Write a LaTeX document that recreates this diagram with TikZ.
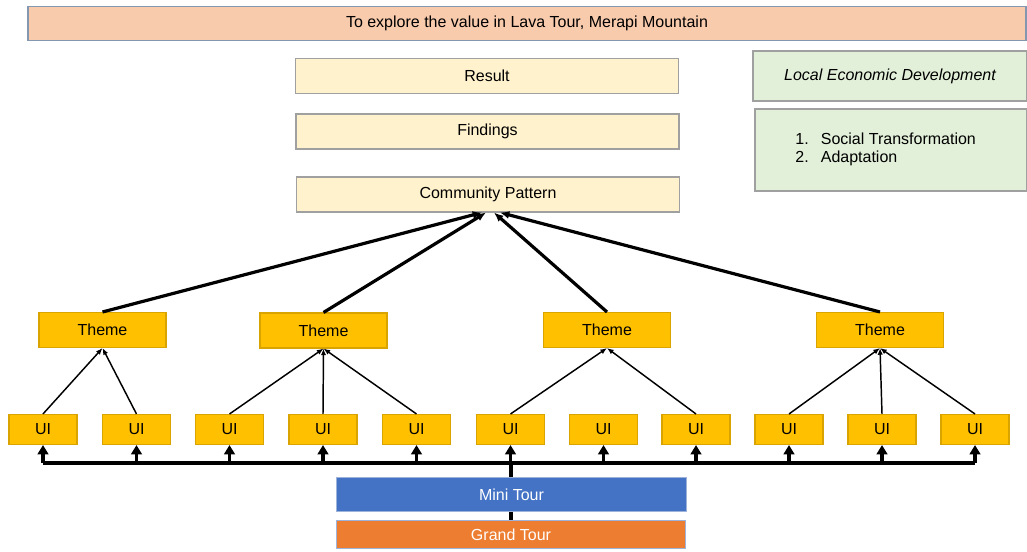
\documentclass[tikz,border=0pt]{standalone}
\usepackage{fontspec}
\setmainfont{Liberation Sans}
\usepackage{xcolor}
\usetikzlibrary{arrows.meta, positioning}

\definecolor{bannerfill}{HTML}{F8CBAD}
\definecolor{bannerline}{HTML}{8497B0}
\definecolor{stagefill}{HTML}{FFF2CC}
\definecolor{notefill}{HTML}{E2F0D9}
\definecolor{boxline}{HTML}{A0A0A0}
\definecolor{gold}{HTML}{FFC000}
\definecolor{goldline}{HTML}{D9A400}
\definecolor{mini}{HTML}{4472C4}
\definecolor{grand}{HTML}{ED7D31}
\definecolor{tourline}{HTML}{9DB3DA}

\tikzset{
  box/.style={draw=boxline, line width=0.8pt, inner sep=0pt, font=\fontsize{12}{14}\selectfont},
  goalbox/.style={box, draw=bannerline, fill=bannerfill, minimum width=748.5pt, minimum height=25.5pt},
  stagebox/.style={box, fill=stagefill, minimum width=287.25pt, minimum height=26.25pt},
  notebox/.style={box, fill=notefill},
  themebox/.style={box, draw=goldline, fill=gold, minimum width=95.25pt, minimum height=26.25pt},
  uibox/.style={box, draw=goldline, fill=gold, minimum width=51pt, minimum height=22.5pt},
  tourbox/.style={box, draw=tourline, text=white, minimum width=262pt},
  toarrow/.style={-{Latex[length=7pt,width=6pt]}, line width=2.4pt},
  uiarrow/.style={-{Latex[length=5pt,width=4pt]}, line width=1.1pt},
  busline/.style={line width=2.8pt},
  busarrow/.style={-{Triangle[length=7pt,width=8pt]}, line width=2.8pt}
}

\begin{document}
\begin{tikzpicture}[x=0.75pt, y=-0.75pt]
\useasboundingbox (0,0) rectangle (1027,551);

% aim and levels
\node[goalbox] (goal) at (527,23.5) {To explore the value in Lava Tour, Merapi Mountain};
\node[stagebox] (result) at (487,76) {Result};
\node[stagebox] (findings) at (487.5,131.5) {Findings};
\node[stagebox] (pattern) at (488,194.5) {Community Pattern};
\node[notebox, minimum width=205.5pt, minimum height=37.5pt] (led) at (890,76) {\itshape Local Economic Development};
\node[notebox, minimum width=204pt, minimum height=61.5pt] (aspects) at (891,150)
  {\fontsize{12}{13.5}\selectfont\begin{tabular}{@{}l@{\hspace{9pt}}l@{\hspace{8pt}}}1.&Social Transformation\\2.&Adaptation\end{tabular}};

% themes
\node[themebox] (theme1) at (102.5,330) {Theme};
\node[themebox] (theme2) at (323.5,330.5) {Theme};
\node[themebox] (theme3) at (607,330) {Theme};
\node[themebox] (theme4) at (880,330) {Theme};

% units
\foreach \i/\x in {1/43, 2/136.5, 3/229.5, 4/323, 5/416.5, 6/510.5, 7/603.5, 8/696, 9/789, 10/882, 11/975}
  \node[uibox] (ui\i) at (\x,429.5) {UI};

% themes to pattern
\draw[toarrow] (theme1.north) -- ([xshift=-4.5pt]pattern.south);
\draw[toarrow] (theme2.north) -- ([xshift=-1.5pt]pattern.south);
\draw[toarrow] (theme3.north) -- ([xshift=4.5pt]pattern.south);
\draw[toarrow] (theme4.north) -- ([xshift=9pt]pattern.south);

% units to themes
\foreach \u/\t in {1/1, 2/1, 3/2, 4/2, 5/2, 6/3, 8/3, 9/4, 10/4, 11/4}
  \draw[uiarrow] (ui\u.north) -- (theme\t.south);

% tours
\node[tourbox, fill=grand, minimum height=21pt] (grand) at (511,534.5) {Grand Tour};
\coordinate (bus) at (511,463);
\draw[busline] (grand.north) -- (bus);
\draw[busline, rounded corners=2pt] (ui1.south |- bus) -- (ui11.south |- bus);
\foreach \i in {1,...,11}
  \draw[busarrow] (ui\i.south |- bus) -- (ui\i.south);
\node[tourbox, fill=mini, minimum height=25.5pt] (mini) at (511.5,494.5) {Mini Tour};
\end{tikzpicture}
\end{document}
